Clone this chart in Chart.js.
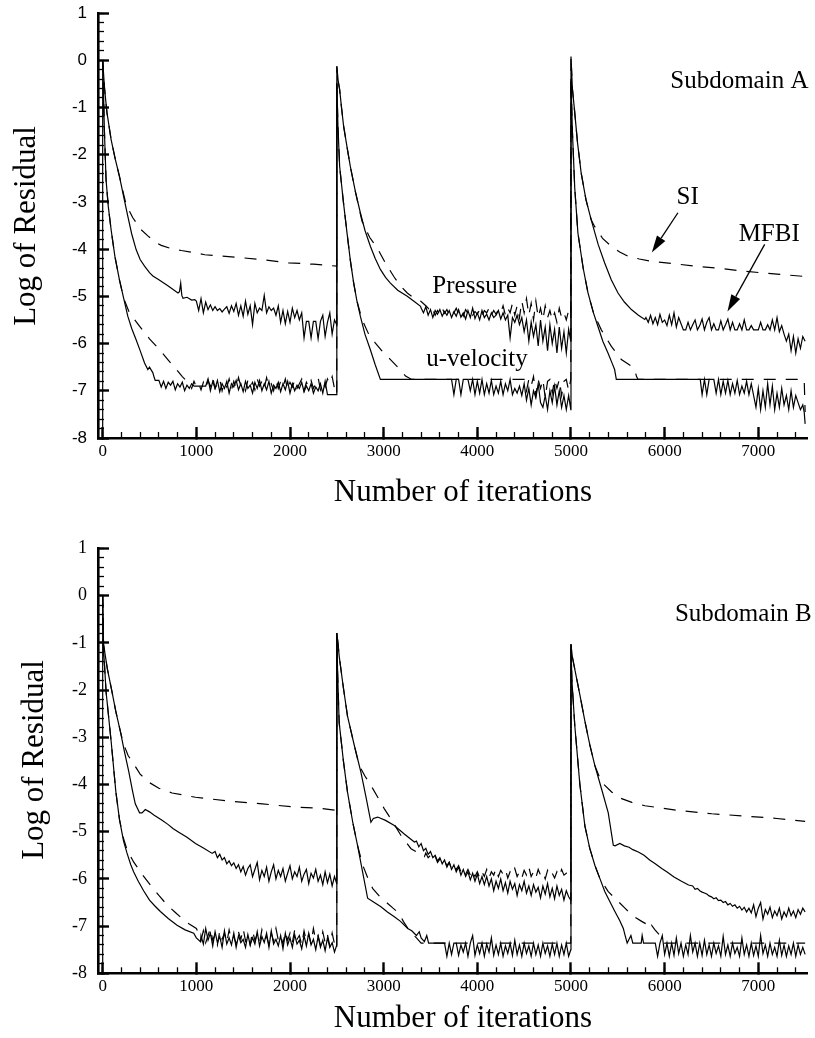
<!DOCTYPE html>
<html><head><meta charset="utf-8">
<script src="https://cdn.jsdelivr.net/npm/chart.js@4.4.1/dist/chart.umd.min.js"></script>
<style>
html,body{margin:0;padding:0;background:#fff;}
#wrap{position:relative;width:815px;height:1038px;background:#fff;}
canvas{position:absolute;left:0;}
#cA{top:0;width:815px;height:520px;}
#cB{top:520px;width:815px;height:518px;}
</style></head><body>
<div id="wrap"><canvas id="cA" width="815" height="520"></canvas><canvas id="cB" width="815" height="518"></canvas></div>
<script>
// ---------- axis tick values ----------
const X_TICKS = [0,1000,2000,3000,4000,5000,6000,7000];
const X_MINOR = [0,200,400,600,800,1000,1200,1400,1600,1800,2000,2200,2400,2600,2800,3000,3200,3400,3600,3800,4000,4200,4400,4600,4800,5000,5200,5400,5600,5800,6000,6200,6400,6600,6800,7000,7200,7400];
const Y_TICKS = [1,0,-1,-2,-3,-4,-5,-6,-7,-8];
const Y_MINOR = [1,0.8,0.6,0.4,0.2,0,-0.2,-0.4,-0.6,-0.8,-1,-1.2,-1.4,-1.6,-1.8,-2,-2.2,-2.4,-2.6,-2.8,-3,-3.2,-3.4,-3.6,-3.8,-4,-4.2,-4.4,-4.6,-4.8,-5,-5.2,-5.4,-5.6,-5.8,-6,-6.2,-6.4,-6.6,-6.8,-7,-7.2,-7.4,-7.6,-7.8,-8];
const NOISE_DX = 25; // iteration spacing of the sampled noisy stretches

// ================= Subdomain A =================
// Pressure, MFBI (solid)
const A_P_MFBI_C1 = [[0,0],[20,-0.6],[45,-1.1],[90,-1.68],[135,-2.1],[179,-2.46],[225,-2.9],[268,-3.3],[310,-3.68],[357,-4.01],[400,-4.22],[447,-4.36],[500,-4.5],[536,-4.57],[600,-4.65],[700,-4.78],[804,-4.93],[820,-4.9],[833,-4.72],[845,-4.98],[858,-5.04],[900,-5.02],[950,-5.08],[983,-5.07]];
const A_P_MFBI_N1 = [-5.10,-5.30,-5.05,-5.35,-5.12,-5.28,-5.18,-5.30,-5.22,-5.30,-5.26,-5.33,-5.27,-5.22,-5.36,-5.20,-5.32,-5.15,-5.40,-5.20,-5.42,-5.10,-5.38,-5.20,-5.60,-5.15,-5.35,-5.25,-5.30,-4.98,-5.35,-5.22,-5.30,-5.25,-5.40,-5.20,-5.55,-5.30,-5.58,-5.32,-5.55,-5.25,-5.45,-5.30,-5.50,-5.35,-5.88,-5.53,-5.53,-5.88,-5.53,-5.53,-5.90,-5.53,-5.40,-5.85,-5.55,-5.35,-5.80,-5.50];
const A_P_MFBI_C2 = [[2499,-5.6],[2500,-0.13],[2515,-0.45],[2530,-0.62],[2550,-1.0],[2572,-1.39],[2610,-1.85],[2644,-2.25],[2700,-2.8],[2751,-3.23],[2800,-3.6],[2858,-3.94],[2910,-4.2],[2965,-4.43],[3020,-4.6],[3072,-4.72],[3150,-4.87],[3252,-5.0],[3320,-5.1],[3394,-5.21]];
const A_P_MFBI_N2 = [-5.25,-5.35,-5.22,-5.40,-5.28,-5.45,-5.30,-5.38,-5.28,-5.42,-5.32,-5.40,-5.30,-5.45,-5.33,-5.42,-5.28,-5.44,-5.35,-5.48,-5.30,-5.45,-5.25,-5.47,-5.35,-5.50,-5.30,-5.45,-5.38,-5.50,-5.35,-5.45,-5.40,-5.30,-5.48,-5.35,-5.50,-5.40,-5.88,-5.45,-5.55,-5.40,-5.60,-5.45,-5.75,-5.50,-5.95,-5.55,-5.85,-5.60,-6.05,-5.50,-5.95,-5.65,-6.15,-5.60,-6.00,-5.70,-6.20,-5.65,-6.10,-5.75,-6.20,-5.70];
const A_P_MFBI_C3 = [[4998,-5.95],[5000,0.08],[5015,-0.6],[5037,-1.04],[5070,-1.75],[5109,-2.39],[5160,-2.95],[5216,-3.38],[5290,-3.9],[5359,-4.29],[5430,-4.65],[5502,-4.93],[5570,-5.12],[5645,-5.28],[5720,-5.4],[5788,-5.49]];
const A_P_MFBI_N3 = [-5.45,-5.55,-5.40,-5.58,-5.45,-5.60,-5.38,-5.55,-5.50,-5.62,-5.40,-5.60,-5.35,-5.65,-5.45,-5.58,-5.71,-5.71,-5.55,-5.71,-5.60,-5.50,-5.71,-5.62,-5.48,-5.71,-5.55,-5.45,-5.71,-5.58,-5.71,-5.71,-5.52,-5.71,-5.60,-5.48,-5.71,-5.55,-5.71,-5.71,-5.58,-5.71,-5.50,-5.71,-5.71,-5.62,-5.71,-5.71,-5.71,-5.55,-5.71,-5.71,-5.60,-5.71,-5.50,-5.71,-5.45,-5.75,-5.62,-5.80,-5.95,-5.80,-6.15,-5.85,-6.20,-5.90,-6.10,-5.85,-5.95];

// Pressure, SI (dashed)
const A_P_SI_C1 = [[0,0],[20,-0.6],[45,-1.1],[90,-1.68],[135,-2.1],[179,-2.46],[225,-2.85],[251,-3.06],[320,-3.33],[411,-3.59],[482,-3.72],[560,-3.85],[625,-3.92],[715,-3.98],[840,-4.03],[965,-4.07],[1090,-4.12],[1412,-4.17],[1698,-4.22],[1984,-4.29],[2250,-4.32],[2499,-4.36]];
const A_P_SI_C2 = [[2500,-0.13],[2515,-0.45],[2530,-0.62],[2550,-1.0],[2572,-1.39],[2610,-1.85],[2644,-2.25],[2700,-2.8],[2769,-3.41],[2850,-3.75],[2930,-3.97],[3020,-4.3],[3108,-4.58],[3180,-4.78],[3252,-4.93],[3320,-5.03],[3394,-5.1],[3450,-5.2]];
const A_P_SI_N2 = [-5.25,-5.35,-5.28,-5.40,-5.30,-5.38,-5.25,-5.36,-5.28,-5.40,-5.30,-5.35,-5.25,-5.38,-5.30,-5.42,-5.28,-5.36,-5.30,-5.40,-5.32,-5.38,-5.28,-5.42,-5.30,-5.35,-5.25,-5.40,-5.30,-5.38,-5.28,-5.35,-5.20,-5.40,-5.25,-5.35,-5.15,-5.40,-5.20,-5.45,-5.10,-5.35,-5.05,-5.40,-5.15,-5.50,-5.10,-5.45,-5.25,-5.50,-5.20,-5.45,-5.30,-5.50,-5.35,-5.55,-5.25,-5.45,-5.35,-5.50,-5.30];
const A_P_SI_C3 = [[4998,-5.4],[5000,0.08],[5015,-0.6],[5037,-1.04],[5070,-1.75],[5109,-2.39],[5160,-2.95],[5216,-3.38],[5252,-3.52],[5340,-3.78],[5431,-3.94],[5520,-4.06],[5610,-4.15],[5730,-4.21],[5860,-4.26],[6100,-4.31],[6324,-4.36],[6600,-4.41],[6860,-4.47],[7200,-4.53],[7500,-4.58]];

// u-velocity, MFBI (solid)
const A_U_MFBI_C1 = [[0,-8.2],[0,0],[8,-0.6],[18,-1.47],[36,-2.53],[60,-3.1],[90,-3.59],[130,-4.15],[179,-4.65],[225,-5.05],[268,-5.42],[310,-5.68],[357,-5.92],[400,-6.15],[447,-6.41],[482,-6.55],[500,-6.5],[536,-6.62],[550,-6.72],[561,-6.78]];
const A_U_MFBI_N1 = [-6.78,-6.78,-6.92,-6.80,-6.95,-6.82,-6.88,-6.80,-6.98,-6.85,-6.92,-6.82,-7.00,-6.88,-6.95,-6.85,-6.90,-6.90,-6.90,-6.90,-6.90,-6.90,-6.75,-7.00,-6.80,-6.95,-6.78,-7.02,-6.85,-6.95,-6.80,-7.05,-6.85,-6.92,-6.78,-6.98,-6.85,-7.02,-6.80,-6.95,-6.88,-7.05,-6.82,-6.95,-6.78,-7.00,-6.85,-6.98,-6.80,-7.05,-6.88,-6.95,-6.82,-7.02,-6.85,-6.98,-6.80,-7.05,-6.85,-7.00,-6.88,-6.95,-6.82,-7.02,-6.90,-7.00,-6.85,-7.05,-6.92,-7.00,-6.85,-7.05,-6.80,-7.08,-7.08,-7.08,-7.08];
const A_U_MFBI_C2 = [[2499,-7.08],[2500,-0.5],[2512,-1.4],[2530,-2.25],[2570,-3.0],[2609,-3.66],[2645,-4.25],[2680,-4.72],[2715,-5.1],[2751,-5.42],[2800,-5.8],[2858,-6.13],[2910,-6.45],[2965,-6.76],[3725,-6.76]];
const A_U_MFBI_N2 = [-7.08,-6.76,-6.76,-7.08,-6.76,-6.76,-6.76,-7.00,-6.76,-7.08,-6.80,-7.05,-6.76,-7.08,-6.85,-7.05,-6.78,-7.08,-6.90,-7.05,-6.80,-7.08,-6.85,-7.00,-6.76,-7.08,-6.95,-7.05,-6.90,-7.10,-6.85,-7.20,-6.95,-7.30,-7.00,-7.15,-6.85,-7.25,-7.35,-7.10,-7.40,-7.00,-7.25,-6.90,-7.30,-7.00,-7.35,-7.10,-7.40,-7.10];
const A_U_MFBI_C3 = [[4998,-7.4],[5000,-0.4],[5015,-1.5],[5040,-2.7],[5074,-3.66],[5130,-4.4],[5181,-4.92],[5240,-5.35],[5288,-5.64],[5340,-5.95],[5395,-6.2],[5440,-6.42],[5466,-6.55],[5484,-6.76],[6380,-6.76]];
const A_U_MFBI_N3 = [-7.08,-6.76,-7.08,-6.76,-6.76,-6.76,-7.05,-6.76,-7.08,-6.80,-7.05,-6.78,-7.08,-6.85,-7.05,-6.78,-7.08,-6.90,-7.05,-6.80,-7.08,-6.85,-7.10,-7.35,-6.95,-7.40,-7.00,-7.35,-6.85,-7.30,-6.90,-7.40,-7.05,-7.35,-6.95,-7.30,-7.10,-7.40,-7.00,-7.35,-7.10,-7.25,-7.40,-7.30];
const A_U_MFBI_END = [[7490,-7.45],[7500,-7.7]];

// u-velocity, SI (dashed)
const A_U_SI_C1 = [[0,0],[8,-0.6],[18,-1.47],[36,-2.53],[60,-3.1],[90,-3.59],[130,-4.15],[179,-4.65],[225,-5.05],[286,-5.35],[393,-5.63],[500,-5.9],[608,-6.13],[700,-6.35],[804,-6.59],[850,-6.7],[900,-6.8]];
const A_U_SI_N1 = [-6.85,-6.95,-6.80,-6.92,-6.85,-6.98,-6.82,-6.95,-6.78,-6.90,-6.72,-6.95,-6.85,-6.75,-7.00,-6.82,-6.92,-6.75,-6.98,-6.80,-6.95,-6.72,-6.90,-6.85,-7.00,-6.78,-6.92,-6.82,-6.98,-6.75,-6.90,-6.80,-6.95,-6.72,-6.92,-6.85,-7.00,-6.78,-6.95,-6.80,-6.92,-6.75,-6.98,-6.82,-6.92,-6.78,-6.95,-6.85,-6.75,-7.00,-6.82,-6.92,-6.78,-6.95,-6.85,-6.72,-6.98,-6.82,-6.92,-6.75,-6.85,-6.70,-6.95];
const A_U_SI_C2 = [[2499,-7.08],[2500,-0.5],[2512,-1.4],[2530,-2.25],[2570,-3.0],[2609,-3.66],[2645,-4.25],[2680,-4.72],[2715,-5.1],[2769,-5.49],[2840,-5.8],[2912,-5.99],[3000,-6.2],[3073,-6.34],[3150,-6.5],[3234,-6.69],[3300,-6.76],[4500,-6.76]];
const A_U_SI_N2 = [-7.0,-6.76,-6.9,-6.7,-7.1,-6.76,-6.95,-6.76,-7.15,-6.8,-6.76,-7.05,-6.76,-6.95,-6.76,-7.1,-6.8,-6.76,-7.0];
const A_U_SI_C3 = [[4998,-6.76],[5000,-0.4],[5015,-1.5],[5040,-2.7],[5074,-3.66],[5130,-4.4],[5181,-4.92],[5240,-5.35],[5324,-5.71],[5431,-6.06],[5538,-6.34],[5645,-6.48],[5680,-6.55],[5700,-6.7],[5717,-6.76],[7490,-6.76],[7500,-7.45]];

// ================= Subdomain B =================
// Pressure, MFBI (solid)
const B_P_MFBI_C1 = [[0,0],[9,-1.03],[50,-1.55],[98,-2.02],[140,-2.45],[187,-2.86],[230,-3.28],[277,-3.71],[320,-4.15],[348,-4.41],[394,-4.6],[420,-4.6],[455,-4.53],[500,-4.58],[550,-4.65],[634,-4.76],[700,-4.85],[750,-4.93],[812,-5.01],[900,-5.12],[991,-5.25],[1080,-5.35],[1169,-5.46]];
const B_P_MFBI_N1 = [-5.42,-5.55,-5.48,-5.60,-5.55,-5.68,-5.62,-5.72,-5.66,-5.78,-5.70,-5.85,-5.74,-5.92,-5.78,-5.70,-5.95,-5.80,-5.65,-6.02,-5.82,-5.95,-5.75,-6.05,-5.85,-5.70,-6.00,-5.82,-5.95,-5.78,-6.05,-5.88,-5.72,-6.00,-5.85,-5.95,-5.75,-6.05,-5.90,-5.80,-6.10,-5.88,-5.98,-5.80,-6.05,-5.92,-6.12,-5.85,-6.08,-5.90,-6.15,-5.95];
const B_P_MFBI_C2 = [[2499,-6.1],[2500,-0.79],[2512,-1.0],[2525,-1.28],[2570,-1.95],[2614,-2.55],[2690,-3.2],[2757,-3.74],[2810,-4.25],[2864,-4.8],[2890,-4.72],[2936,-4.69],[3020,-4.76],[3114,-4.87],[3220,-5.05],[3328,-5.22]];
const B_P_MFBI_N2 = [-5.20,-5.32,-5.25,-5.40,-5.35,-5.48,-5.42,-5.55,-5.50,-5.62,-5.55,-5.68,-5.60,-5.75,-5.65,-5.80,-5.70,-5.85,-5.75,-5.92,-5.80,-5.95,-5.85,-6.02,-5.88,-6.05,-5.90,-6.10,-5.95,-6.12,-5.95,-6.15,-6.00,-6.25,-6.05,-6.20,-6.00,-6.25,-6.08,-6.30,-6.05,-6.22,-6.10,-6.35,-6.12,-6.25,-6.05,-6.30,-6.15,-6.35,-6.12,-6.28,-6.18,-6.40,-6.15,-6.32,-6.10,-6.38,-6.20,-6.42,-6.15,-6.35,-6.22,-6.45,-6.25,-6.38];
const B_P_MFBI_C3 = [[4998,-6.45],[5000,-1.03],[5015,-1.3],[5041,-1.56],[5095,-2.1],[5148,-2.65],[5200,-3.15],[5255,-3.6],[5326,-4.09],[5398,-4.6],[5452,-5.29],[5470,-5.3],[5522,-5.25],[5570,-5.3],[5620,-5.33],[5660,-5.38],[5719,-5.43],[5780,-5.5],[5840,-5.6],[5900,-5.68],[5969,-5.78],[6030,-5.86],[6100,-5.96],[6180,-6.05],[6255,-6.13]];
const B_P_MFBI_N3 = [-6.15,-6.22,-6.20,-6.25,-6.28,-6.30,-6.32,-6.36,-6.38,-6.42,-6.40,-6.46,-6.45,-6.50,-6.48,-6.55,-6.52,-6.58,-6.55,-6.62,-6.58,-6.66,-6.60,-6.70,-6.62,-6.72,-6.55,-6.80,-6.62,-6.50,-6.85,-6.65,-6.75,-6.60,-6.82,-6.68,-6.78,-6.62,-6.85,-6.70,-6.80,-6.62,-6.78,-6.68,-6.82,-6.65,-6.75,-6.62,-6.70];

// Pressure, SI (dashed)
const B_P_SI_C1 = [[0,0],[9,-1.03],[50,-1.55],[98,-2.02],[140,-2.45],[187,-2.86],[223,-3.14],[270,-3.38],[330,-3.56],[400,-3.78],[491,-3.95],[600,-4.08],[741,-4.18],[991,-4.27],[1348,-4.35],[1705,-4.41],[2062,-4.48],[2300,-4.5],[2499,-4.55]];
const B_P_SI_C2 = [[2500,-0.79],[2512,-1.0],[2525,-1.28],[2570,-1.95],[2614,-2.55],[2690,-3.2],[2739,-3.6],[2800,-3.82],[2864,-4.02],[2940,-4.28],[3006,-4.51],[3100,-4.8],[3185,-5.08],[3292,-5.36],[3435,-5.53]];
const B_P_SI_N2 = [-5.45,-5.55,-5.50,-5.60,-5.52,-5.65,-5.58,-5.68,-5.62,-5.72,-5.65,-5.78,-5.70,-5.80,-5.72,-5.85,-5.78,-5.90,-5.80,-5.92,-5.82,-5.95,-5.85,-5.98,-5.85,-5.95,-5.80,-5.98,-5.85,-5.92,-5.78,-5.95,-5.82,-5.90,-5.80,-5.98,-5.85,-5.92,-5.78,-5.95,-5.85,-5.98,-5.82,-5.92,-5.75,-5.95,-5.85,-5.98,-5.80,-5.92,-5.85,-6.00,-5.82,-5.95,-5.88,-5.98,-5.85,-5.95,-5.80,-5.92,-5.88,-5.98];
const B_P_SI_C3 = [[4998,-5.9],[5000,-1.03],[5015,-1.3],[5041,-1.56],[5095,-2.1],[5148,-2.65],[5200,-3.15],[5255,-3.6],[5326,-3.95],[5434,-4.16],[5541,-4.3],[5650,-4.38],[5790,-4.45],[6148,-4.55],[6504,-4.62],[6861,-4.67],[7200,-4.72],[7500,-4.78]];

// u-velocity, MFBI (solid)
const B_U_MFBI_C1 = [[0,-8.2],[0,0],[5,-1.0],[37,-2.05],[91,-3.1],[141,-4.16],[180,-4.75],[223,-5.2],[259,-5.45],[300,-5.7],[330,-5.85],[380,-6.05],[437,-6.25],[500,-6.45],[560,-6.58],[616,-6.69],[700,-6.84],[794,-6.98],[880,-7.08],[972,-7.15],[1000,-7.25],[1044,-7.33]];
const B_U_MFBI_N1 = [-7.20,-7.38,-7.05,-7.30,-7.15,-7.42,-7.12,-7.35,-7.22,-7.45,-7.10,-7.38,-7.25,-7.40,-7.15,-7.45,-7.20,-7.35,-7.28,-7.45,-7.18,-7.40,-7.25,-7.38,-7.12,-7.42,-7.22,-7.35,-7.15,-7.45,-7.10,-7.38,-7.28,-7.42,-7.20,-7.48,-7.15,-7.40,-7.25,-7.45,-7.18,-7.38,-7.30,-7.48,-7.20,-7.42,-7.15,-7.40,-7.28,-7.50,-7.22,-7.45,-7.30,-7.52,-7.25,-7.45,-7.35,-7.55];
const B_U_MFBI_C2 = [[2499,-7.4],[2500,-0.79],[2508,-1.6],[2525,-2.69],[2570,-3.5],[2614,-4.16],[2670,-4.8],[2721,-5.29],[2775,-5.85],[2829,-6.41],[2900,-6.5],[2971,-6.59],[3040,-6.7],[3114,-6.8],[3180,-6.9],[3257,-7.05],[3300,-7.1],[3350,-7.2],[3380,-7.12],[3400,-7.25],[3435,-7.33],[3460,-7.2],[3480,-7.36],[3625,-7.36]];
const B_U_MFBI_N2 = [-7.36,-7.64,-7.36,-7.60,-7.36,-7.36,-7.62,-7.40,-7.55,-7.36,-7.64,-7.36,-7.20,-7.62,-7.40,-7.58,-7.36,-7.64,-7.38,-7.55,-7.25,-7.62,-7.40,-7.60,-7.36,-7.64,-7.42,-7.58,-7.36,-7.62,-7.30,-7.60,-7.40,-7.64,-7.36,-7.58,-7.42,-7.64,-7.36,-7.60,-7.40,-7.64,-7.36,-7.58,-7.42,-7.64,-7.38,-7.60,-7.36,-7.64,-7.40,-7.60,-7.36,-7.64];
const B_U_MFBI_C3 = [[4998,-7.5],[5000,-1.03],[5010,-1.8],[5041,-2.76],[5095,-4.0],[5148,-4.87],[5200,-5.35],[5255,-5.71],[5310,-6.0],[5362,-6.27],[5420,-6.5],[5469,-6.69],[5520,-6.88],[5559,-7.05],[5577,-7.19],[5600,-7.36],[5640,-7.2],[5660,-7.36],[5750,-7.36],[5760,-7.2],[5775,-7.36],[5900,-7.36]];
const B_U_MFBI_N3 = [-7.64,-7.36,-7.20,-7.60,-7.36,-7.64,-7.36,-7.62,-7.25,-7.58,-7.36,-7.64,-7.40,-7.60,-7.20,-7.55,-7.36,-7.64,-7.36,-7.62,-7.30,-7.60,-7.40,-7.64,-7.36,-7.58,-7.42,-7.64,-7.22,-7.60,-7.40,-7.64,-7.36,-7.58,-7.45,-7.64,-7.25,-7.60,-7.40,-7.64,-7.36,-7.62,-7.42,-7.64,-7.20,-7.58,-7.40,-7.64,-7.36,-7.60,-7.45,-7.64,-7.30,-7.62,-7.40,-7.64,-7.42,-7.60,-7.36,-7.64,-7.40,-7.60,-7.45,-7.60];

// u-velocity, SI (dashed)
const B_U_SI_C1 = [[0,0],[5,-1.0],[37,-2.05],[91,-3.1],[141,-4.16],[180,-4.75],[223,-5.15],[260,-5.38],[330,-5.64],[420,-5.9],[509,-6.13],[600,-6.35],[687,-6.55],[770,-6.7],[848,-6.84],[920,-6.95],[1000,-7.05]];
const B_U_SI_N1 = [-7.15,-7.30,-7.10,-7.35,-7.20,-7.05,-7.30,-7.18,-7.40,-7.10,-7.28,-7.15,-7.35,-7.08,-7.30,-7.22,-7.38,-7.12,-7.28,-7.05,-7.32,-7.20,-7.40,-7.10,-7.30,-7.18,-7.35,-7.08,-7.28,-7.22,-7.40,-7.15,-7.32,-7.05,-7.30,-7.20,-7.38,-7.12,-7.30,-7.15,-7.35,-7.08,-7.28,-7.20,-7.40,-7.10,-7.32,-7.18,-7.38,-7.05,-7.30,-7.20,-7.40,-7.12,-7.35,-7.18,-7.42,-7.15,-7.38];
const B_U_SI_C2 = [[2499,-7.5],[2500,-0.79],[2508,-1.6],[2525,-2.69],[2570,-3.5],[2614,-4.16],[2670,-4.8],[2721,-5.29],[2775,-5.7],[2830,-5.98],[2882,-6.2],[2960,-6.38],[3043,-6.52],[3100,-6.62],[3167,-6.73],[3210,-6.9],[3260,-7.05],[3300,-7.15],[3350,-7.25],[3400,-7.36],[4998,-7.36]];
const B_U_SI_C3 = [[5000,-1.03],[5010,-1.8],[5041,-2.76],[5095,-4.0],[5148,-4.87],[5200,-5.35],[5255,-5.71],[5310,-6.0],[5398,-6.27],[5490,-6.45],[5576,-6.62],[5660,-6.78],[5755,-6.9],[5800,-6.95],[5830,-7.05],[5860,-6.98],[5897,-7.08],[5950,-7.2],[6000,-7.36],[7500,-7.36]];

// ---------- annotation texts (anchored in data units) ----------
const A_LABELS = [
  {text:'Subdomain A', x:6060, y:-0.58},
  {text:'SI', x:6127, y:-3.04},
  {text:'MFBI', x:6790, y:-3.82},
  {text:'Pressure', x:3520, y:-4.92},
  {text:'u-velocity', x:3455, y:-6.48}
];
const A_ARROWS = [
  {from:[6142,-3.23], to:[5863,-4.07]},
  {from:[7068,-3.9], to:[6671,-5.32]}
];
const B_LABELS = [{text:'Subdomain B', x:6110, y:-0.54}];

// ---------- helpers ----------
function build(parts){
  const out = [];
  parts.forEach((p, i) => {
    if (Array.isArray(p)) { p.forEach(([x,y]) => out.push({x, y})); return; }
    const next = parts[i+1];
    const lim = next ? (Array.isArray(next) ? next[0][0] : next.x0) : Infinity;
    p.y.forEach((y, k) => { const x = p.x0 + k*NOISE_DX; if (x < lim) out.push({x, y}); });
  });
  return out;
}

const seriesA = [
  {dashed:false, data: build([A_P_MFBI_C1,{x0:1000,y:A_P_MFBI_N1},A_P_MFBI_C2,{x0:3400,y:A_P_MFBI_N2},A_P_MFBI_C3,{x0:5800,y:A_P_MFBI_N3}])},
  {dashed:false, data: build([A_U_MFBI_C1,{x0:575,y:A_U_MFBI_N1},A_U_MFBI_C2,{x0:3750,y:A_U_MFBI_N2},A_U_MFBI_C3,{x0:6400,y:A_U_MFBI_N3},A_U_MFBI_END])},
  {dashed:true, data: build([A_P_SI_C1,A_P_SI_C2,{x0:3475,y:A_P_SI_N2},A_P_SI_C3])},
  {dashed:true, data: build([A_U_SI_C1,{x0:925,y:A_U_SI_N1},A_U_SI_C2,{x0:4525,y:A_U_SI_N2},A_U_SI_C3])}
];
const seriesB = [
  {dashed:false, data: build([B_P_MFBI_C1,{x0:1200,y:B_P_MFBI_N1},B_P_MFBI_C2,{x0:3350,y:B_P_MFBI_N2},B_P_MFBI_C3,{x0:6300,y:B_P_MFBI_N3}])},
  {dashed:false, data: build([B_U_MFBI_C1,{x0:1050,y:B_U_MFBI_N1},B_U_MFBI_C2,{x0:3650,y:B_U_MFBI_N2},B_U_MFBI_C3,{x0:5925,y:B_U_MFBI_N3}])},
  {dashed:true, data: build([B_P_SI_C1,B_P_SI_C2,{x0:3450,y:B_P_SI_N2},B_P_SI_C3])},
  {dashed:true, data: build([B_U_SI_C1,{x0:1025,y:B_U_SI_N1},B_U_SI_C2,B_U_SI_C3])}
];

const annotPlugin = {
  id: 'annot',
  afterDraw(chart, args, o) {
    const {ctx} = chart; const xs = chart.scales.x, ys = chart.scales.y;
    ctx.save();
    ctx.fillStyle = '#000'; ctx.strokeStyle = '#000';
    ctx.font = '25px "Liberation Serif", "Times New Roman", serif';
    ctx.textAlign = 'left'; ctx.textBaseline = 'alphabetic';
    (o.labels || []).forEach(l => ctx.fillText(l.text, xs.getPixelForValue(l.x), ys.getPixelForValue(l.y)));
    (o.arrows || []).forEach(a => {
      const x1 = xs.getPixelForValue(a.from[0]), y1 = ys.getPixelForValue(a.from[1]);
      const x2 = xs.getPixelForValue(a.to[0]), y2 = ys.getPixelForValue(a.to[1]);
      const ang = Math.atan2(y2-y1, x2-x1), L = 17, W = 5;
      const bx = x2 - L*Math.cos(ang), by = y2 - L*Math.sin(ang);
      ctx.lineWidth = 1.3; ctx.setLineDash([]);
      ctx.beginPath(); ctx.moveTo(x1,y1); ctx.lineTo(bx,by); ctx.stroke();
      ctx.beginPath(); ctx.moveTo(x2,y2);
      ctx.lineTo(bx + W*Math.sin(ang), by - W*Math.cos(ang));
      ctx.lineTo(bx - W*Math.sin(ang), by + W*Math.cos(ang));
      ctx.closePath(); ctx.fill();
    });
    ctx.font = '31px "Liberation Serif", "Times New Roman", serif';
    ctx.textAlign = 'center';
    ctx.fillText('Number of iterations', o.xTitle[0], o.xTitle[1]);
    ctx.translate(o.yTitle[0], o.yTitle[1]); ctx.rotate(-Math.PI/2);
    ctx.fillText('Log of Residual', 0, 0);
    ctx.restore();
  }
};

function makeChart(canvasId, series, L) {
  const datasets = series.map(s => ({
    data: s.data, borderColor:'#000', borderWidth:1.2, borderDash: s.dashed ? [12,10] : [],
    pointRadius:0, tension:0, fill:false
  }));
  const serif = 'Liberation Serif, Times New Roman, serif';
  return new Chart(document.getElementById(canvasId), {
    type:'line',
    data:{datasets},
    plugins:[annotPlugin],
    options:{
      responsive:false, animation:false, devicePixelRatio:1, events:[],
      layout:{padding:{top:L.padTop, right:8, left:0, bottom:0}},
      plugins:{legend:{display:false}, tooltip:{enabled:false},
        annot:{labels:L.labels, arrows:L.arrows, xTitle:L.xTitle, yTitle:L.yTitle}},
      scales:{
        x:{type:'linear', position:'bottom', min:-50, max:7520, weight:1,
          afterBuildTicks:s=>{s.ticks = X_TICKS.map(v=>({value:v}));},
          afterFit:s=>{s.height = L.xAxisH; s.paddingLeft = 0; s.paddingRight = 0;},
          border:{display:true, width:2.6, color:'#000'},
          grid:{drawOnChartArea:false, drawTicks:true, tickLength:-11, tickWidth:2.4, tickColor:'#000'},
          ticks:{color:'#000', font:{family:serif, size:17}, padding:14, maxRotation:0, autoSkip:false,
            callback:v=>String(v)}
        },
        xm:{type:'linear', position:'bottom', min:-50, max:7520, weight:0,
          afterBuildTicks:s=>{s.ticks = X_MINOR.map(v=>({value:v}));},
          afterFit:s=>{s.height = 0; s.paddingLeft = 0; s.paddingRight = 0;},
          border:{display:false},
          grid:{drawOnChartArea:false, drawTicks:true, tickLength:-6, tickWidth:1.3, tickColor:'#000'},
          ticks:{display:false}
        },
        y:{type:'linear', position:'left', min:-8, max:1, weight:1,
          afterBuildTicks:s=>{s.ticks = Y_TICKS.map(v=>({value:v}));},
          afterFit:s=>{s.width = 98; s.paddingTop = 0; s.paddingBottom = 0;},
          border:{display:true, width:2.6, color:'#000'},
          grid:{drawOnChartArea:false, drawTicks:true, tickLength:-11, tickWidth:2.4, tickColor:'#000'},
          ticks:{color:'#000', font:{family:L.yFont, size:L.yFontSize}, padding:22, autoSkip:false,
            callback:v=>String(v)}
        },
        ym:{type:'linear', position:'left', min:-8, max:1, weight:0,
          afterBuildTicks:s=>{s.ticks = Y_MINOR.map(v=>({value:v}));},
          afterFit:s=>{s.width = 0; s.paddingTop = 0; s.paddingBottom = 0;},
          border:{display:false},
          grid:{drawOnChartArea:false, drawTicks:true, tickLength:-6, tickWidth:1.3, tickColor:'#000'},
          ticks:{display:false}
        }
      }
    }
  });
}

makeChart('cA', seriesA, {padTop:13, xAxisH:82, yFont:'Liberation Sans, Arial, sans-serif', yFontSize:17,
  labels:A_LABELS, arrows:A_ARROWS, xTitle:[463,501], yTitle:[34.5,226]});
makeChart('cB', seriesB, {padTop:28.5, xAxisH:64.7, yFont:'Liberation Serif, Times New Roman, serif', yFontSize:18,
  labels:B_LABELS, arrows:[], xTitle:[463,507], yTitle:[42.5,240]});
</script></body></html>
